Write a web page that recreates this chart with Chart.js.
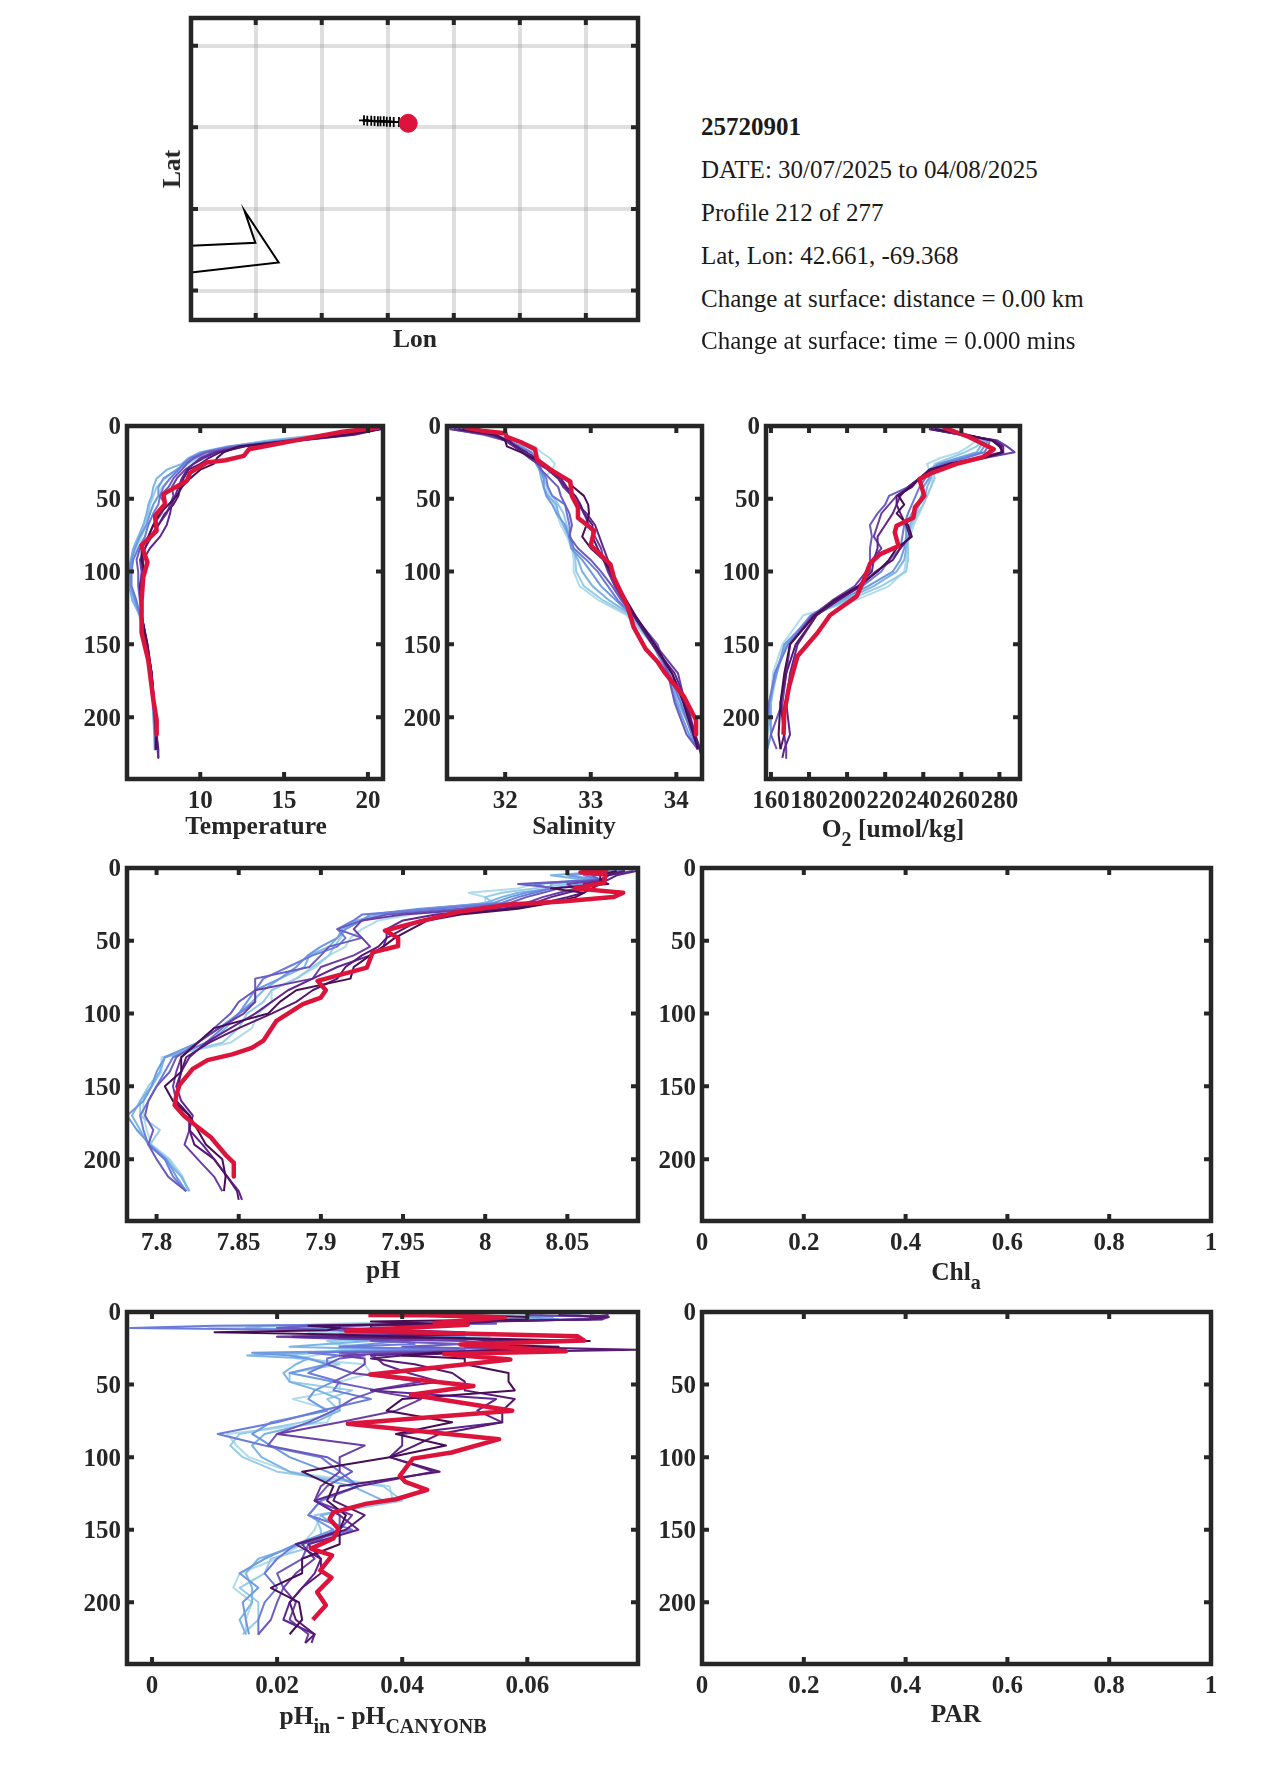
<!DOCTYPE html>
<html>
<head>
<meta charset="utf-8">
<script src="https://cdn.jsdelivr.net/npm/chart.js@4"></script>
<style>
  body { margin: 0; background: #fff; width: 1275px; height: 1771px; position: relative; overflow: hidden; }
  canvas { position: absolute; }
  .lbl { position: absolute; transform: translate(-50%, -50%); font: bold 25.5px "Liberation Serif", serif; color: #262626; white-space: nowrap; }
  .lbl sub { font-size: 20px; line-height: 0; vertical-align: -9px; }
  .info { position: absolute; left: 701px; font: 25px "Liberation Serif", serif; color: #1a1a1a; white-space: nowrap; transform: translateY(-50%); }
</style>
</head>
<body>
<script>
// colours, light to dark, oldest profile first
const lineColors = ['#b0dcea', '#97cbe8', '#7db4e6', '#6d9ae2', '#6c7cdc', '#6a5cc0', '#6a3ea6', '#5f2590', '#561a72', '#470d55'];
const currentColor = '#dc143c';

const depthTicks = [0, 50, 100, 150, 200];
const depthMax = 242.5;

// depths shared by the older profiles
const depthA = [2,6,10,14,18,22,26,30,36,42,48,54,60,68,76,84,92,100,110,120,130,150,170,190,212,222,228];
const depthB = [2,5,8,11,14,17,20,24,28,32,36,42,48,54,60,68,76,84,92,100,110,120,130,140,150,160,170,180,190,200,212,222,228];
const depthC = [2,3.5,5,6.5,8,9.5,11,12.5,14,15.5,17,18.5,20,22,24,26,28,30,32,36,42,48,54,60,68,76,84,92,100,110,120,130,140,150,160,170,180,190,200,212,222,228];

const tempTicks = [10, 15, 20];
const tempLines = [
  [20.4,17.6,14.6,12.2,10.6,9.9,9.3,8.8,8.2,7.7,7.5,7.2,7.0,6.8,6.5,6.2,5.95,5.85,5.85,6.05,6.35,6.8,7.0,7.2,7.3,7.25,null],
  [20.3,17.2,14.0,11.8,10.3,9.5,9.0,8.6,7.9,7.4,7.2,7.0,6.9,6.7,6.4,6.1,5.9,5.75,5.8,6.0,6.4,6.8,7.0,7.2,7.3,7.3,null],
  [20.5,17.4,14.3,11.6,10.0,9.3,8.9,8.0,7.4,7.2,7.1,6.9,6.8,6.6,6.3,6.0,5.85,5.7,5.75,5.95,6.4,6.75,7.0,7.15,7.25,7.3,null],
  [20.5,17.8,14.8,12,10.4,9.7,9.1,8.6,7.8,7.5,7.5,7.2,7.0,6.8,6.4,6.1,5.9,5.8,5.85,6.1,6.4,6.8,7,7.2,7.3,7.3,null],
  [20.6,18,15,11.8,10.2,9.4,9,8.7,8.2,7.8,7.6,7.5,7.2,6.9,6.7,6.3,6,5.9,5.9,6.2,6.4,6.8,7,7.2,7.3,7.3,null],
  [20.6,18.4,15.2,12.2,10.4,9.6,9.2,8.9,8.4,8.1,7.6,7.9,7.7,7.2,6.9,6.4,6.2,6.3,6.3,6.4,6.5,6.8,7.1,7.2,7.35,7.4,null],
  [20.7,18.8,15.6,12.4,10.8,10,9.6,9.1,8.6,8.3,8.4,8.2,8,7.5,7.1,6.7,6.4,6.5,6.4,6.5,6.5,6.8,7.1,7.2,7.35,7.45,7.5],
  [20.8,19.2,16,12.6,11,10.2,9.6,9.2,8.9,8.7,8.5,8.3,8.2,8.0,7.6,7.0,6.6,6.6,6.5,6.5,6.5,6.8,7.1,7.25,7.4,7.5,7.5],
  [20.7,19,15.8,12.7,11.2,10.5,10,9.3,9,8.8,8.7,8.4,7.9,7.5,7.0,6.7,6.5,6.6,6.4,6.45,6.5,6.85,7.1,7.25,7.4,7.45,null],
  [20.8,18.6,15.4,12.3,11.4,11,10.8,10,9.4,8.9,8.6,8.1,7.6,7.2,6.9,6.5,6.5,6.7,6.5,6.5,6.5,6.85,7.1,7.25,7.35,7.35,null]
];
const tempNowDepth = [1,4,9,16,20.5,23.5,25,32,37.6,46.8,53.6,61.6,72,82,93.6,104,120,142,161,188,202,212];
const tempNow = [20.7,18.5,16.1,12.9,12.6,11.5,10.4,9.4,9.2,7.8,7.9,7.3,7.4,6.5,6.85,6.6,6.5,6.5,6.9,7.2,7.4,7.4];

const salTicks = [32, 33, 34];
const salLines = [
  [31.6,31.95,32.15,32.35,32.42,32.52,32.58,32.55,32.45,32.48,32.52,32.58,32.6,32.65,32.72,32.78,32.8,32.8,32.87,33.1,33.42,33.72,33.95,34.05,34.2,34.25,null],
  [31.5,31.9,32.1,32.25,32.35,32.4,32.42,32.42,32.45,32.5,32.55,32.62,32.68,32.72,32.75,32.8,32.82,32.83,32.92,33.15,33.45,33.72,33.92,34.05,34.2,34.25,null],
  [31.45,31.85,32.05,32.2,32.3,32.35,32.38,32.4,32.42,32.45,32.5,32.6,32.62,32.68,32.74,32.78,32.85,32.9,33.02,33.22,33.48,33.72,33.92,34.02,34.2,34.25,null],
  [31.45,31.85,32.02,32.18,32.3,32.35,32.36,32.4,32.45,32.45,32.48,32.55,32.6,32.7,32.75,32.77,32.9,33.0,33.12,33.3,33.48,33.72,33.9,34.0,34.15,34.25,null],
  [31.4,31.8,32,32.15,32.3,32.35,32.38,32.42,32.48,32.5,32.55,32.7,32.72,32.75,32.76,32.8,32.95,33.08,33.2,33.32,33.5,33.75,33.92,34.05,34.18,34.25,null],
  [31.35,31.75,32,32.15,32.22,32.32,32.38,32.42,32.52,32.62,32.65,32.7,32.75,32.78,32.75,32.85,33.0,33.12,33.25,33.36,33.5,33.78,33.9,33.98,34.12,34.25,null],
  [31.35,31.8,32.02,32.15,32.2,32.28,32.38,32.5,32.62,32.68,32.78,32.86,32.92,32.98,33.05,33.12,33.15,33.2,33.28,33.38,33.5,33.75,34.02,34.1,34.2,34.27,34.3],
  [31.4,31.85,32.0,32.1,32.2,32.3,32.42,32.5,32.62,32.7,32.78,32.85,32.95,33.05,33.1,33.15,33.2,33.22,33.3,33.38,33.5,33.72,33.98,34.12,34.22,34.28,34.3],
  [31.45,31.85,32.05,32.12,32.25,32.35,32.42,32.5,32.65,32.72,32.82,32.88,32.92,33.02,33.02,33.08,33.15,33.22,33.3,33.4,33.5,33.72,33.95,34.1,34.22,34.27,null],
  [31.5,31.9,32.0,32.02,32.18,32.32,32.45,32.55,32.7,32.8,32.92,32.97,32.98,32.95,32.9,33.0,33.15,33.25,33.32,33.42,33.52,33.75,33.95,34.08,34.2,34.25,null]
];
const salNowDepth = [1,3.5,5,7.5,11,16,23,30,38,48,56,63,72,82,95,104,124,138,153,162,169,186,202,212];
const salNow = [31.53,31.75,32,32.02,32.18,32.35,32.37,32.53,32.76,32.78,32.85,32.85,33.04,33.0,33.23,33.27,33.43,33.5,33.64,33.78,33.86,34.09,34.23,34.23];

const oxyTicks = [160, 180, 200, 220, 240, 260, 280];
const oxyLines = [
  [250,262,268,264,259,249,242,243,245,244,242,240,238,235,233,231,231,230,222,204,177,166,161,160,158,157.5,null],
  [249,263,272,268,262,254,246,245,246,244,242,240,237,234,232,232,232,231,218,200,181,168,163,160,158,158,null],
  [248,262,273,270,268,258,248,244,244,242,241,238,236,233,232,231,230,226,214,198,183,168,162,160,160,158,null],
  [247,262,274,272,270,259,248,243,243,240,239,237,234,231,231,230,228,224,211,196,182,167,163,159,160,158,null],
  [246,262,275,274,272,262,250,244,241,238,236,234,232,230,229,228,222,218,208,194,181,169,162,159,157,157.5,null],
  [244,260,277,280,282,268,252,244,238,232,222,220,216,212,213,212,212,212,206,193,183,170,168,166,160,163,null],
  [243,260,279,284,288,272,254,245,238,232,226,222,218,216,214,218,213,210,204,192,182,170,168,166,167,168,168],
  [243,260,278,282,282,270,254,244,238,232,228,226,224,220,216,216,214,213,206,194,184,174,170,168,170,167,166],
  [244,262,277,281,281,270,254,243,238,234,226,226,228,231,233,228,224,215,207,195,184,173,168,165,167,165,null],
  [246,263,276,280,282,272,254,244,238,233,227,230,226,232,234,226,222,216,206,193,183,170,167,165,164,165,null]
];
const oxyNowDepth = [1,7.5,16,21.5,26,32,36.5,48,56,63,68.5,73,82.5,88,94.6,106,117,130,142,158,179,197,212];
const oxyNow = [250.4,264,277,271,257.5,245,238,240.5,235.6,234.8,226,225,227,217.4,212,208.7,205,191,184.5,174,169.5,167,166.6];

const phTicks = [7.8, 7.85, 7.9, 7.95, 8, 8.05];
const phLines = [
  [8.07,8.065,8.06,8.03,8.02,7.99,8.0,8.0,7.985,7.955,7.935,7.925,7.918,7.915,7.905,7.897,7.885,7.87,7.87,7.862,7.858,7.845,7.803,7.803,7.797,7.792,7.792,7.794,7.797,7.808,7.816,7.819,null],
  [8.075,8.05,8.062,8.05,8.03,8.01,8.0,8.005,7.975,7.94,7.925,7.915,7.912,7.908,7.905,7.895,7.885,7.87,7.865,7.855,7.85,7.84,7.805,7.802,7.795,7.79,7.79,7.802,7.796,7.807,7.815,7.82,null],
  [8.078,8.04,8.06,8.04,8.04,8.02,8.01,8.0,7.965,7.935,7.922,7.913,7.91,7.905,7.893,7.89,7.875,7.865,7.858,7.85,7.842,7.832,7.805,7.802,7.797,7.79,7.785,7.79,7.795,7.805,7.815,7.82,null],
  [8.08,8.05,8.068,8.06,8.04,8.025,8.015,8.005,7.96,7.93,7.925,7.915,7.91,7.9,7.892,7.885,7.875,7.86,7.855,7.85,7.838,7.825,7.805,7.8,7.797,7.792,7.782,7.788,7.796,7.806,7.812,7.818,null],
  [8.083,8.06,8.07,8.03,8.04,8.03,8.02,8.01,7.97,7.925,7.92,7.91,7.915,7.91,7.895,7.88,7.865,7.86,7.86,7.85,7.84,7.83,7.81,7.805,7.8,7.795,7.79,7.792,7.795,7.805,7.81,7.818,null],
  [8.085,8.065,8.07,8.02,8.045,8.035,8.025,8.015,7.985,7.94,7.925,7.91,7.925,7.905,7.9,7.893,7.86,7.86,7.85,7.845,7.835,7.825,7.812,7.808,7.8,7.795,7.793,7.798,7.795,7.8,7.807,7.818,null],
  [8.09,8.075,8.072,8.05,8.055,8.045,8.035,8.025,8.0,7.95,7.925,7.92,7.925,7.93,7.92,7.9,7.895,7.86,7.86,7.853,7.838,7.825,7.815,7.812,7.81,7.812,7.82,7.82,7.817,7.825,7.835,7.84,null],
  [8.092,8.08,8.075,8.06,8.06,8.05,8.04,8.03,8.01,7.97,7.95,7.94,7.94,7.938,7.93,7.91,7.895,7.88,7.87,7.86,7.845,7.83,7.82,7.815,7.812,7.815,7.822,7.82,7.828,7.835,7.843,7.85,7.852],
  [8.085,8.075,8.07,8.07,8.065,8.06,8.05,8.035,8.015,7.98,7.96,7.95,7.94,7.935,7.925,7.915,7.91,7.895,7.885,7.87,7.85,7.832,7.818,7.815,7.813,7.812,7.82,7.82,7.823,7.835,7.843,7.849,7.85],
  [8.08,8.07,8.07,8.075,8.04,8.06,8.055,8.04,8.02,7.985,7.965,7.955,7.945,7.938,7.93,7.92,7.918,7.885,7.875,7.868,7.835,7.825,7.815,7.815,7.805,7.81,7.82,7.825,7.83,7.84,7.842,7.841,null]
];
const phNowDepth = [1,3,4.5,10,14,17,20,23,25,30,36.5,43,48,53.6,58,68.4,77.5,84,89,93.5,105,118.6,123.6,128,132,138,149,156,163,170,178,185,197,202.5,212];
const phNow = [8.075,8.058,8.073,8.0725,8.0545,8.084,8.078,8.0466,8.015,7.9846,7.961,7.939,7.947,7.947,7.9315,7.928,7.898,7.903,7.9,7.889,7.873,7.865,7.858,7.846,7.831,7.822,7.814,7.812,7.811,7.8165,7.825,7.833,7.842,7.847,7.847];

const diffTicks = [0, 0.02, 0.04, 0.06];
const diffLines = [
  [.058,.05,.06,.045,.03,.02,.009,.03,.025,.05,.054,.04,.03,.0285,.035,.03,.028,.026,.023,.034,.035,.03,.03,.0225,.029,.028,.012,.0135,.0155,.022,.038,.0385,.027,.026,.024,.02,.014,.013,.016,.015,.015,null],
  [.06,.055,.062,.05,.04,.03,.02,.035,.03,.055,.045,.035,.028,.03,.03,.034,.026,.022,.025,.03,.022,.022,.032,.028,.03,.024,.014,.0125,.0145,.02,.037,.04,.026,.027,.027,.019,.018,.014,.017,.017,.0145,null],
  [.062,.064,.064,.052,.05,.018,.015,.03,.035,.05,.048,.03,.035,.028,.022,.04,.0245,.0152,.025,.023,.021,.022,.0265,.03,.03,.026,.018,.016,.0175,.022,.032,.037,.027,.03,.024,.017,.015,.016,.016,.014,.015,null],
  [.068,.06,.065,.05,.048,.03,.02,.04,.04,.035,.05,.04,.04,.035,.03,.045,.016,.022,.025,.028,.022,.029,.026,.025,.028,.019,.016,.019,.022,.028,.033,.027,.025,.029,.023,.018,.014,.017,.0145,.015,.0155,null],
  [.068,.07,.07,.05,.055,.01,-.0035,.03,.04,.03,.03,.045,.04,.042,.03,.05,.025,.03,.028,.028,.025,.03,.029,.035,.027,.02,.0105,.018,.027,.03,.033,.027,.025,.032,.023,.02,.018,.02,.018,.017,.017,null],
  [.07,.072,.072,.045,.055,.025,.02,.03,.04,.045,.02,.04,.035,.05,.04,.06,.03,.034,.03,.028,.032,.029,.036,.032,.029,.025,.02,.0185,.028,.032,.028,.026,.03,.03,.025,.024,.02,.021,.02,.019,.017,null],
  [.06,.073,.072,.05,.05,.028,.03,.032,.042,.05,.02,.03,.05,.055,.05,.06,.04,.03,.034,.034,.032,.043,.035,.043,.039,.03,.02,.034,.03,.03,.027,.026,.032,.03,.024,.026,.023,.021,.023,.022,.025,.0245],
  [.073,.07,.072,.05,.048,.03,.03,.04,.05,.05,.0225,.05,.055,.05,.06,.055,.045,.035,.036,.037,.041,.046,.035,.055,.052,.056,.04,.04,.038,.045,.033,.026,.03,.033,.025,.027,.026,.024,.022,.021,.026,.0255],
  [.065,.073,.07,.055,.05,.035,.035,.04,.045,.05,.03,.05,.06,.05,.055,.0775,.05,.04,.035,.042,.048,.05,.05,.058,.056,.056,.046,.042,.038,.046,.03,.029,.034,.031,.023,.027,.027,.024,.022,.023,.026,.0245],
  [.05,.06,.06,.035,.045,.025,.03,.028,.01,.03,.04,.055,.07,.05,.065,.06,.045,.04,.05,.05,.057,.057,.058,.04,.0375,.048,.039,.047,.038,.024,.029,.028,.031,.03,.03,.024,.024,.019,.0235,.024,.022,null]
];
const diffNowDepth = [2,2.2,3.7,7.5,8.7,13,16.7,19.7,22.4,27,29,32.7,43,51,57,68,77,87.6,96.8,101,113,117,122.6,129,132,138,142.5,149.4,156,163,167.7,178,183,193,202,212];
const diffNow = [.0346,.044,.0564,.0452,.0505,.031,.068,.0691,.0493,.0662,.0467,.0573,.0349,.0514,.0414,.0576,.0313,.0555,.0479,.0417,.0396,.0405,.044,.039,.0343,.029,.0284,.0298,.029,.0254,.0288,.0269,.0287,.0264,.0278,.0257];

const unitTicks = [0, 0.2, 0.4, 0.6, 0.8, 1];

const mapLonTicks = [-69.6, -69.5, -69.4, -69.3, -69.2, -69.1];
const mapLatTicks = [42.45, 42.55, 42.65, 42.75];
const trackLon = [-69.436,-69.431,-69.425,-69.42,-69.415,-69.411,-69.406,-69.4015,-69.3965,-69.391,-69.383,-69.369];
const trackLat = [42.6586,42.6582,42.658,42.6578,42.6574,42.6574,42.6574,42.657,42.657,42.6565,42.6565,42.655];
const coastLon = [-69.698,-69.6005,-69.617,-69.5652,-69.698];
const coastLat = [42.5049,42.5085,42.548,42.4845,42.4722];

const infoLines = [
  ['25720901', 127, true],
  ['DATE: 30/07/2025 to 04/08/2025', 170, false],
  ['Profile 212 of 277', 213, false],
  ['Lat, Lon: 42.661, -69.368', 256, false],
  ['Change at surface: distance = 0.00 km', 299, false],
  ['Change at surface: time = 0.000 mins', 341, false]
];

const frameColor = '#262626';
const tickFont = { family: '"Liberation Serif", serif', size: 25, weight: 'bold' };

// box round the axes and MATLAB style inward ticks on all four sides
const framePlugin = {
  id: 'frame',
  afterDatasetsDraw(chart) {
    const { ctx, chartArea: a, scales } = chart;
    ctx.save();
    ctx.strokeStyle = frameColor;
    ctx.lineWidth = 4;
    scales.x.ticks.forEach(t => {
      const p = scales.x.getPixelForValue(t.value);
      ctx.beginPath();
      ctx.moveTo(p, a.top); ctx.lineTo(p, a.top + 7);
      ctx.moveTo(p, a.bottom); ctx.lineTo(p, a.bottom - 7);
      ctx.stroke();
    });
    scales.y.ticks.forEach(t => {
      const p = scales.y.getPixelForValue(t.value);
      ctx.beginPath();
      ctx.moveTo(a.left, p); ctx.lineTo(a.left + 7, p);
      ctx.moveTo(a.right, p); ctx.lineTo(a.right - 7, p);
      ctx.stroke();
    });
    ctx.lineWidth = 4.5;
    ctx.strokeRect(a.left, a.top, a.right - a.left, a.bottom - a.top);
    ctx.restore();
  }
};

function pairs(xs, ys) {
  return xs.map((x, i) => ({ x: x, y: ys[i] }));
}

function profileSets(lines, depth, nowDepth, now) {
  const sets = lines.map((vals, i) => ({
    data: pairs(vals, depth),
    showLine: true, pointRadius: 0, borderWidth: 2, borderJoinStyle: 'round',
    borderColor: lineColors[i], order: lines.length - i
  }));
  sets.push({
    data: pairs(now, nowDepth),
    showLine: true, pointRadius: 0, borderWidth: 4.5, borderJoinStyle: 'round',
    borderColor: currentColor, order: -1
  });
  return sets;
}

function axis(min, max, ticks, opts) {
  return Object.assign({
    type: 'linear', min: min, max: max,
    grid: { display: false, drawTicks: false },
    border: { display: false },
    ticks: {
      autoSkip: false, maxRotation: 0, minRotation: 0, color: frameColor, font: tickFont,
      callback: v => String(v)
    },
    afterBuildTicks: s => { s.ticks = ticks.map(v => ({ value: v })); }
  }, opts);
}

// box is the plot rectangle in page pixels
function panel(box, datasets, xAxis, yAxis) {
  const marginL = 75, marginT = 22, marginR = 30, marginB = 50;
  const c = document.createElement('canvas');
  const w = box.r - box.l + marginL + marginR;
  const h = box.b - box.t + marginT + marginB;
  c.style.left = (box.l - marginL) + 'px';
  c.style.top = (box.t - marginT) + 'px';
  c.style.width = w + 'px';
  c.style.height = h + 'px';
  c.width = w; c.height = h;
  document.body.appendChild(c);
  xAxis.afterFit = s => { s.height = marginB; s.paddingLeft = s.paddingRight = 0; };
  yAxis.afterFit = s => { s.width = marginL; s.paddingTop = s.paddingBottom = 0; };
  return new Chart(c, {
    type: 'scatter',
    data: { datasets: datasets },
    options: {
      responsive: false, animation: false, devicePixelRatio: 1,
      layout: { padding: { top: marginT, right: marginR, left: 0, bottom: 0 } },
      plugins: { legend: { display: false }, tooltip: { enabled: false } },
      scales: { x: xAxis, y: yAxis }
    },
    plugins: [framePlugin]
  });
}

function depthAxis() {
  const a = axis(0, depthMax, depthTicks, { reverse: true });
  a.ticks.padding = 6;
  a.ticks.labelOffset = 2;
  return a;
}

function valueAxis(min, max, ticks) {
  const a = axis(min, max, ticks, {});
  a.ticks.padding = 8;
  return a;
}

function label(html, x, y, rotate) {
  const d = document.createElement('div');
  d.className = 'lbl';
  d.innerHTML = html;
  d.style.left = x + 'px';
  d.style.top = y + 'px';
  if (rotate) d.style.transform = 'translate(-50%, -50%) rotate(-90deg)';
  document.body.appendChild(d);
}

// map
const mapGrid = { display: true, color: 'rgba(130,130,130,0.26)', lineWidth: 4, drawTicks: false };
const mapX = axis(-69.698, -69.021, mapLonTicks, { grid: mapGrid });
const mapY = axis(42.414, 42.784, mapLatTicks, { grid: mapGrid });
mapX.ticks.callback = () => '';
mapY.ticks.callback = () => '';
panel({ l: 191, t: 18, r: 638, b: 320 }, [
  { data: pairs(coastLon, coastLat), showLine: true, pointRadius: 0, borderWidth: 2, borderColor: '#000', order: 3 },
  { data: pairs(trackLon, trackLat), showLine: true, pointStyle: 'cross', pointRadius: 5, pointBorderWidth: 1.8, borderWidth: 2, borderColor: '#000', pointBorderColor: '#000', order: 2 },
  { data: pairs(trackLon.slice(-1), trackLat.slice(-1)), pointStyle: 'circle', pointRadius: 9, backgroundColor: currentColor, borderColor: currentColor, order: 1 }
], mapX, mapY);
label('Lon', 415, 339);
label('Lat', 172, 169, true);

infoLines.forEach(l => {
  const d = document.createElement('div');
  d.className = 'info';
  d.textContent = l[0];
  d.style.top = l[1] + 'px';
  if (l[2]) d.style.fontWeight = 'bold';
  document.body.appendChild(d);
});

panel({ l: 127, t: 426, r: 383, b: 779 }, profileSets(tempLines, depthA, tempNowDepth, tempNow), valueAxis(5.63, 20.9, tempTicks), depthAxis());
panel({ l: 447, t: 426, r: 702, b: 779 }, profileSets(salLines, depthA, salNowDepth, salNow), valueAxis(31.32, 34.3, salTicks), depthAxis());
panel({ l: 766, t: 426, r: 1020, b: 779 }, profileSets(oxyLines, depthA, oxyNowDepth, oxyNow), valueAxis(157.4, 290.8, oxyTicks), depthAxis());
panel({ l: 127, t: 868, r: 638, b: 1221 }, profileSets(phLines, depthB, phNowDepth, phNow), valueAxis(7.782, 8.093, phTicks), depthAxis());
panel({ l: 702, t: 868, r: 1211, b: 1221 }, [], valueAxis(0, 1, unitTicks), depthAxis());
panel({ l: 127, t: 1312, r: 638, b: 1664 }, profileSets(diffLines, depthC, diffNowDepth, diffNow), valueAxis(-0.004, 0.0777, diffTicks), depthAxis());
panel({ l: 702, t: 1312, r: 1211, b: 1664 }, [], valueAxis(0, 1, unitTicks), depthAxis());

label('Temperature', 256, 826);
label('Salinity', 574, 826);
label('O<sub>2</sub> [umol/kg]', 893, 829);
label('pH', 383, 1270);
label('Chl<sub>a</sub>', 956, 1272);
label('pH<sub>in</sub> - pH<sub>CANYONB</sub>', 383, 1716);
label('PAR', 956, 1714);
</script>
</body>
</html>
